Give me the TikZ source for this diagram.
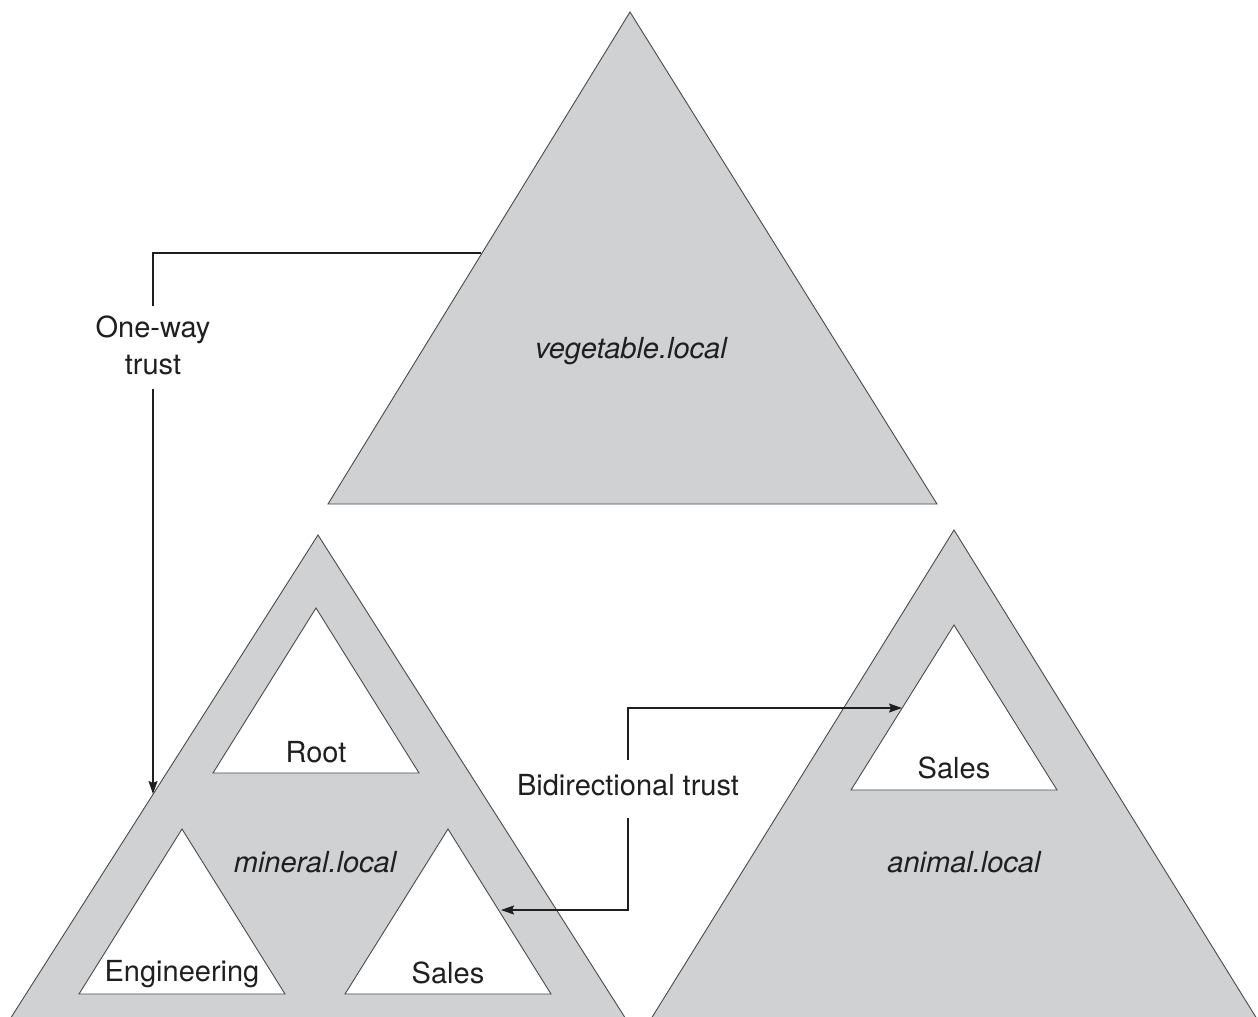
\documentclass[tikz,border=0pt]{standalone}
\usepackage{fontspec}
\setmainfont{TeX Gyre Heros}
\usetikzlibrary{arrows.meta}
\definecolor{domfill}{HTML}{D0D1D3}
\definecolor{edgecol}{HTML}{4A4A4A}
\begin{document}
\begin{tikzpicture}[x=1pt,y=-1pt,
  dom/.style={fill=domfill,draw=edgecol,line width=0.9pt,line join=miter},
  ou/.style={fill=white,draw=edgecol,line width=0.9pt,line join=miter},
  lbl/.style={font=\fontsize{29}{37}\selectfont,text=black!88,inner sep=0pt},
  dlbl/.style={font=\fontsize{29}{37}\selectfont\itshape,text=black!88,inner sep=0pt,anchor=base},
  conn/.style={line width=1.5pt,draw=black!88},
  tipend/.style={-{Stealth[length=13pt,width=9pt,inset=2pt]}}]
\useasboundingbox (0,0) rectangle (1258,1017);
\clip (0,0) rectangle (1258,1017);

% domains
\path[dom] (630,12) -- (937,504) -- (328,504) -- cycle;
\path[dom] (318,535) -- (631,1027) -- (5,1027) -- cycle;
\path[dom] (954,530) -- (1262,1027) -- (646,1027) -- cycle;

% inner trees
\path[ou] (316,608) -- (419,773) -- (213,773) -- cycle;
\path[ou] (182,829) -- (285,994) -- (79,994) -- cycle;
\path[ou] (448,829) -- (551,994) -- (345,994) -- cycle;
\path[ou] (954,625) -- (1057,790) -- (851,790) -- cycle;

% labels
\node[dlbl] (veg) at (631,358) {vegetable.local};
\node[dlbl] (min) at (315,872) {mineral.local};
\node[dlbl] (ani) at (964,872) {animal.local};
\node[lbl,anchor=base] (root) at (316,762) {Root};
\node[lbl,anchor=base] (eng) at (182,981) {Engineering};
\node[lbl,anchor=base] (msales) at (448,983) {Sales};
\node[lbl,anchor=base] (asales) at (954,778) {Sales};

\node[lbl,align=center] (ow) at (153,345) {One-way\\trust};
\node[lbl,anchor=base] (bt) at (628,795) {Bidirectional trust};

% connector end points
\coordinate (vegpt) at (481,253);
\coordinate (minpt) at (153,794);
\coordinate (asA) at (902,708);
\coordinate (msB) at (501,910);

\draw[conn] (vegpt) -| ([yshift=9pt]ow.north);
\draw[conn,tipend] ([yshift=-14pt]ow.south) -- (minpt);
\draw[conn,tipend] ([yshift=14pt]bt.north) |- (asA);
\draw[conn,tipend] ([yshift=-22pt]bt.south) |- (msB);
\end{tikzpicture}
\end{document}
